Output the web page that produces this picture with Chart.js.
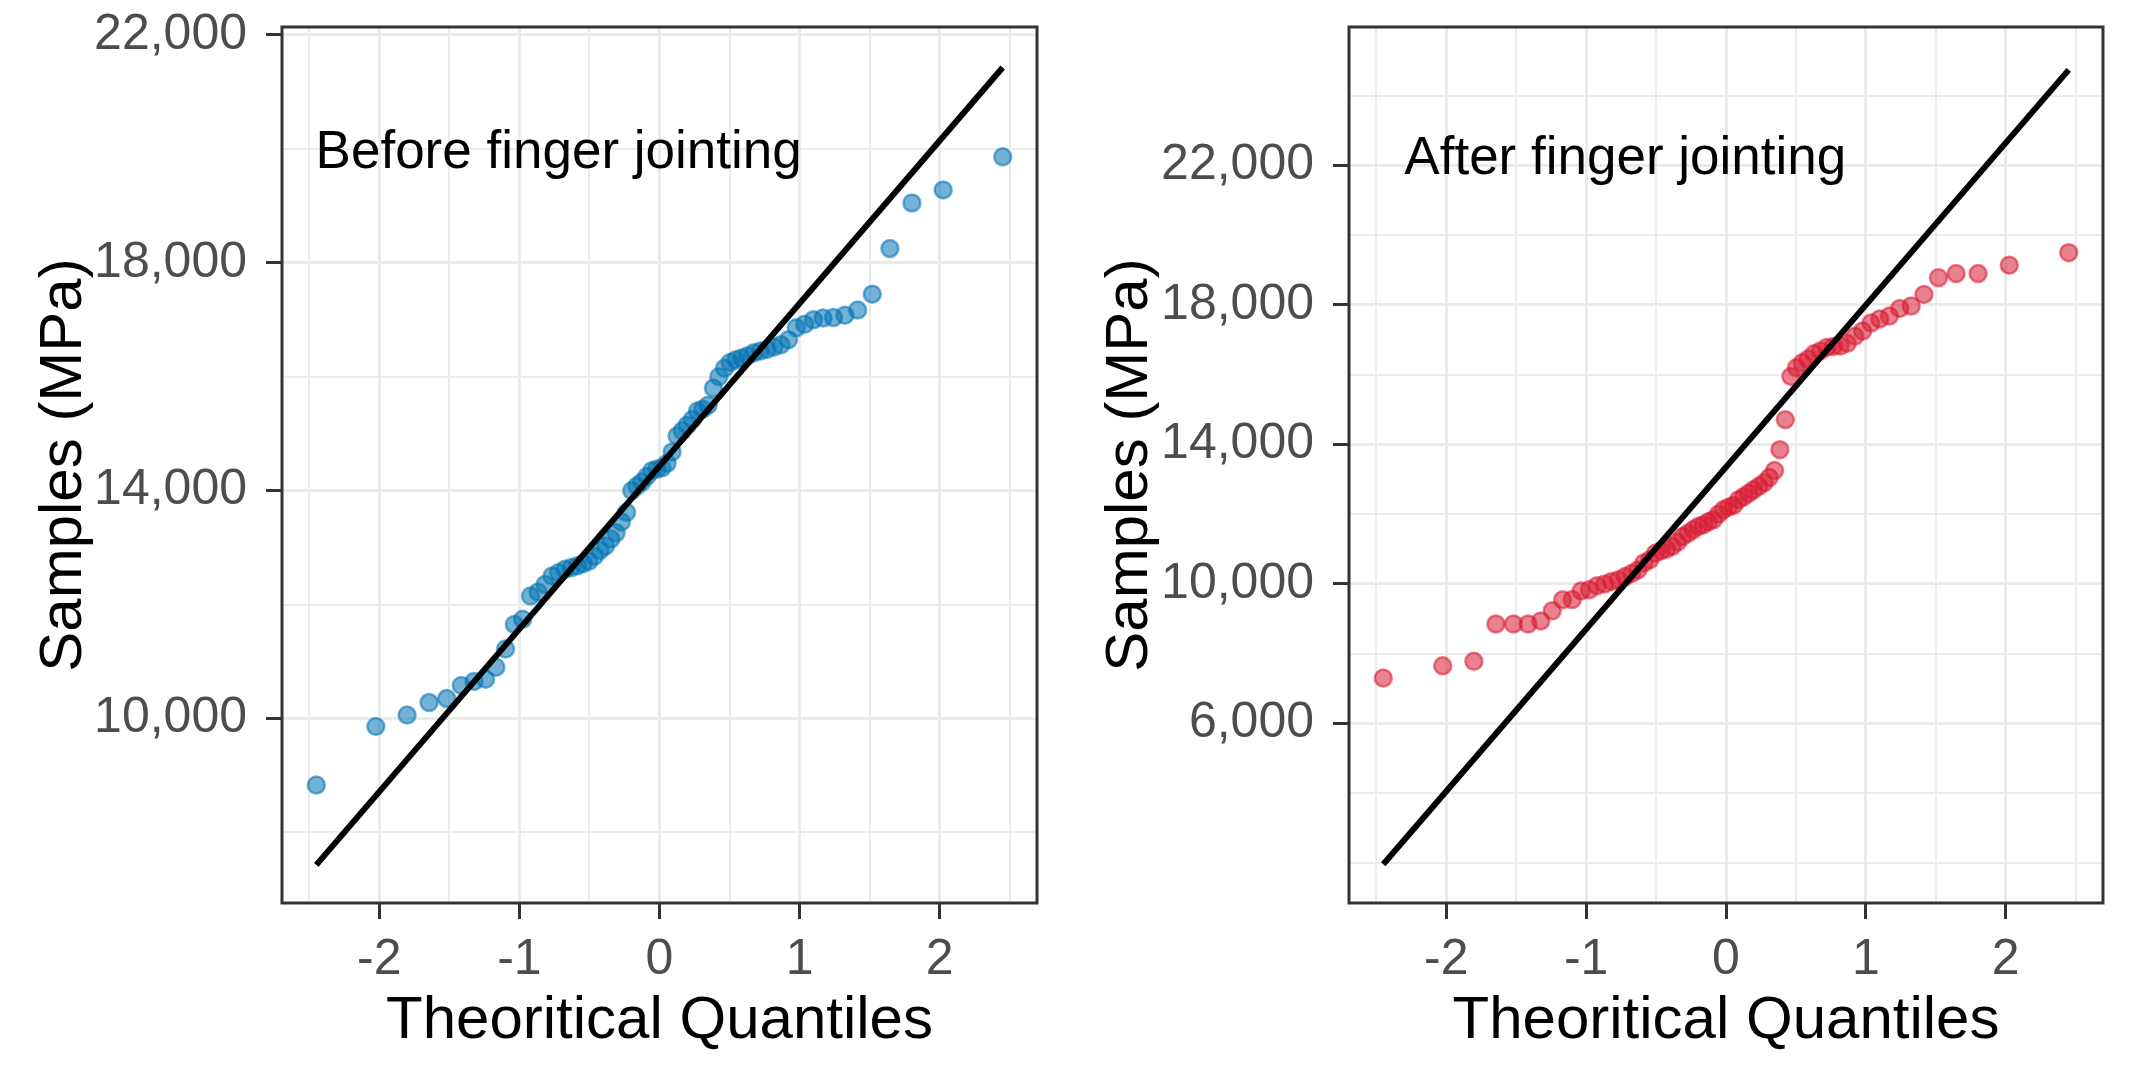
<!DOCTYPE html>
<html>
<head>
<meta charset="utf-8">
<script src="https://cdn.jsdelivr.net/npm/chart.js@4.4.1/dist/chart.umd.min.js"></script>
<style>
  body { margin: 0; background: #ffffff; }
  #wrap { position: relative; width: 2133px; height: 1083px; }
  canvas { position: absolute; top: 0; }
</style>
</head>
<body>
<div id="wrap">
  <canvas id="BeforeChart" width="1066" height="1083" style="left:0"></canvas>
  <canvas id="AfterChart" width="1067" height="1083" style="left:1066px"></canvas>
</div>
<script>
// theoretical normal quantiles (70 samples), same for both panels
var theoQuantiles = [-2.450, -2.025, -1.802, -1.645, -1.519, -1.415, -1.324, -1.242, -1.168, -1.099,
  -1.036, -0.977, -0.921, -0.867, -0.817, -0.768, -0.720, -0.674, -0.630, -0.587,
  -0.545, -0.504, -0.464, -0.424, -0.385, -0.347, -0.309, -0.272, -0.235, -0.198,
  -0.162, -0.126, -0.090, -0.054, -0.018, 0.018, 0.054, 0.090, 0.126, 0.162,
  0.198, 0.235, 0.272, 0.309, 0.347, 0.385, 0.424, 0.464, 0.504, 0.545,
  0.587, 0.630, 0.674, 0.720, 0.768, 0.817, 0.867, 0.921, 0.977, 1.036,
  1.099, 1.168, 1.242, 1.324, 1.415, 1.519, 1.645, 1.802, 2.025, 2.450];

// sample values (MPa), sorted
var beforeSamples = [8830, 9860, 10060, 10280, 10350, 10580, 10650, 10690, 10900, 11220,
  11650, 11740, 12150, 12220, 12350, 12500, 12560, 12620, 12650, 12680,
  12720, 12760, 12850, 12950, 13030, 13150, 13260, 13450, 13620, 14000,
  14080, 14150, 14250, 14350, 14380, 14400, 14480, 14680, 14960, 15050,
  15150, 15250, 15400, 15430, 15500, 15800, 16000, 16150, 16250, 16300,
  16330, 16370, 16420, 16450, 16480, 16520, 16560, 16650, 16860, 16920,
  17000, 17030, 17040, 17080, 17170, 17450, 18250, 19050, 19280, 19860];

var afterSamples = [7300, 7650, 7780, 8850, 8850, 8850, 8940, 9230, 9545, 9550,
  9800, 9830, 9950, 10000, 10070, 10120, 10210, 10300, 10400, 10600,
  10690, 10880, 10950, 11000, 11075, 11200, 11360, 11450, 11550, 11650,
  11700, 11780, 11840, 12000, 12130, 12200, 12250, 12415, 12500, 12600,
  12700, 12800, 12900, 13050, 13250, 13850, 14710, 15950, 16200, 16340,
  16450, 16600, 16680, 16780, 16810, 16820, 16900, 17100, 17250, 17480,
  17600, 17680, 17900, 17970, 18300, 18780, 18900, 18900, 19140, 19500];

// reference lines (end points)
var beforeLineX = [-2.45, 2.45];
var beforeLineY = [7430, 21430];
var afterLineX = [-2.45, 2.45];
var afterLineY = [1960, 24740];

// ticks: grid lines at all, labels only at the major ones
var xGridTicks = [-2.5, -2, -1.5, -1, -0.5, 0, 0.5, 1, 1.5, 2, 2.5];
var xLabelTicks = [-2, -1, 0, 1, 2];
var beforeGridTicks = [8000, 10000, 12000, 14000, 16000, 18000, 20000, 22000];
var beforeLabelTicks = [10000, 14000, 18000, 22000];
var afterGridTicks = [2000, 4000, 6000, 8000, 10000, 12000, 14000, 16000, 18000, 20000, 22000, 24000];
var afterLabelTicks = [6000, 10000, 14000, 18000, 22000];

var FONT = "'Liberation Sans', Arial, sans-serif";

var panelBorder = {
  id: 'panelBorder',
  afterDraw: function(chart) {
    var a = chart.chartArea, ctx = chart.ctx;
    ctx.save();
    ctx.strokeStyle = '#333333';
    ctx.lineWidth = 3;
    ctx.strokeRect(a.left, a.top, a.right - a.left, a.bottom - a.top);
    ctx.restore();
  }
};

var panelNote = {
  id: 'panelNote',
  afterDatasetsDraw: function(chart, args, opts) {
    var ctx = chart.ctx;
    var px = chart.scales.x.getPixelForValue(opts.x);
    var py = chart.scales.y.getPixelForValue(opts.y);
    ctx.save();
    ctx.font = '53px ' + FONT;
    ctx.fillStyle = '#000000';
    ctx.textAlign = 'center';
    ctx.textBaseline = 'alphabetic';
    ctx.fillText(opts.text, px, py + 19);
    ctx.restore();
  }
};

function isIn(list, v) {
  for (var k = 0; k < list.length; k++) { if (Math.abs(list[k] - v) < 1e-9) return true; }
  return false;
}

function makeChart(id, samples, lineX, lineY, color, yMin, yMax, yGrid, yLabels, note, noteY, yWidth, padRight) {
  var pts = [], line = [];
  for (var i = 0; i < samples.length; i++) pts.push({x: theoQuantiles[i], y: samples[i]});
  for (var j = 0; j < lineX.length; j++) line.push({x: lineX[j], y: lineY[j]});

  var ctx = document.getElementById(id).getContext('2d');
  return new Chart(ctx, {
    type: 'scatter',
    data: {
      datasets: [
        {
          type: 'line',
          data: line,
          showLine: true,
          borderColor: '#000000',
          borderWidth: 6,
          pointRadius: 0,
          fill: false,
          order: 0
        },
        {
          data: pts,
          backgroundColor: color,
          borderColor: color,
          borderWidth: 2.5,
          pointRadius: 8.5,
          order: 1
        }
      ]
    },
    options: {
      responsive: false,
      animation: false,
      events: [],
      layout: { padding: { top: 27, right: padRight, bottom: 0, left: 0 } },
      plugins: {
        legend: { display: false },
        tooltip: { enabled: false },
        panelNote: { text: note, x: -0.72, y: noteY }
      },
      scales: {
        x: {
          type: 'linear',
          min: -2.695,
          max: 2.695,
          afterBuildTicks: function(s) { s.ticks = xGridTicks.map(function(v) { return {value: v}; }); },
          afterFit: function(s) { s.height = 180; s.paddingLeft = 0; s.paddingRight = 0; },
          ticks: {
            autoSkip: false,
            maxRotation: 0,
            color: '#4D4D4D',
            font: { family: FONT, size: 50 },
            padding: 11,
            callback: function(v) { return isIn(xLabelTicks, v) ? String(v) : ''; }
          },
          grid: {
            color: '#EBEBEB',
            lineWidth: function(c) { return c.tick && isIn(xLabelTicks, c.tick.value) ? 3 : 2; },
            tickColor: function(c) { return c.tick && isIn(xLabelTicks, c.tick.value) ? '#333333' : 'rgba(0,0,0,0)'; },
            tickWidth: 3,
            tickLength: 16
          },
          border: { display: false },
          title: {
            display: true,
            text: 'Theoritical Quantiles',
            color: '#000000',
            font: { family: FONT, size: 60, lineHeight: 1.2 },
            padding: { top: 0, bottom: 26 }
          }
        },
        y: {
          type: 'linear',
          min: yMin,
          max: yMax,
          afterBuildTicks: function(s) { s.ticks = yGrid.map(function(v) { return {value: v}; }); },
          afterFit: function(s) { s.width = yWidth; s.paddingTop = 0; s.paddingBottom = 0; },
          ticks: {
            autoSkip: false,
            color: '#4D4D4D',
            font: { family: FONT, size: 50 },
            padding: 19,
            callback: function(v) { return isIn(yLabels, v) ? v.toLocaleString('en-US') : ''; }
          },
          grid: {
            color: '#EBEBEB',
            lineWidth: function(c) { return c.tick && isIn(yLabels, c.tick.value) ? 3 : 2; },
            tickColor: function(c) { return c.tick && isIn(yLabels, c.tick.value) ? '#333333' : 'rgba(0,0,0,0)'; },
            tickWidth: 3,
            tickLength: 16
          },
          border: { display: false },
          title: {
            display: true,
            text: 'Samples (MPa)',
            color: '#000000',
            font: { family: FONT, size: 60, lineHeight: 1.2 },
            padding: { top: 28, bottom: 0 }
          }
        }
      }
    },
    plugins: [panelNote, panelBorder]
  });
}

// Before finger jointing
makeChart('BeforeChart', beforeSamples, beforeLineX, beforeLineY, 'rgba(0, 114, 178, 0.55)',
  6760, 22140, beforeGridTicks, beforeLabelTicks, 'Before finger jointing', 20000, 282, 29);

// After finger jointing
makeChart('AfterChart', afterSamples, afterLineX, afterLineY, 'rgba(215, 25, 50, 0.55)',
  850, 25970, afterGridTicks, afterLabelTicks, 'After finger jointing', 22300, 283, 30);
</script>
</body>
</html>
